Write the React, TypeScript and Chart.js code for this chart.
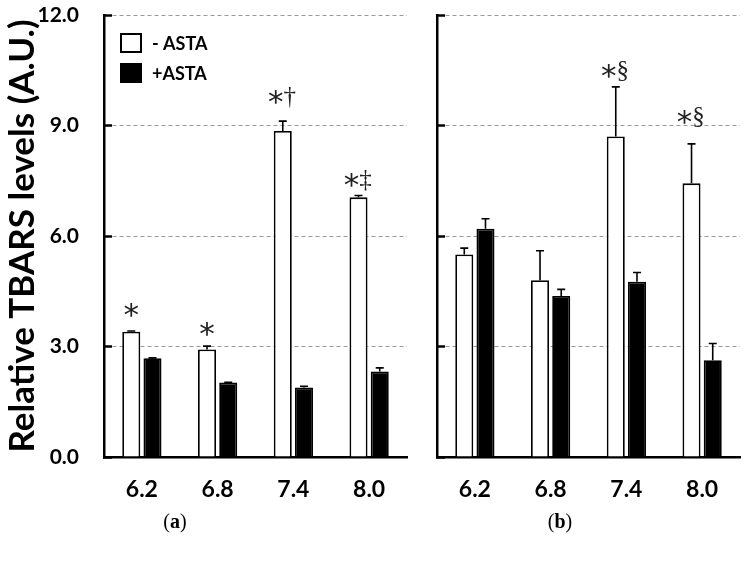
import React, { useEffect, useRef } from "react";
import { Chart, registerables } from "chart.js";

Chart.register(...registerables);

const categories = ["6.2", "6.8", "7.4", "8.0"];
const yTicks = [0, 3, 6, 9, 12];
const seriesLabels = ["- ASTA", "+ASTA"];
const yTitle = "Relative TBARS levels (A.U.)";
const panelLabels = ["a", "b"];

const aNoAsta = [3.4, 2.92, 8.85, 7.05];
const aNoAstaErr = [0.02, 0.09, 0.27, 0.05];
const aAsta = [2.68, 2.02, 1.89, 2.32];
const aAstaErr = [0.01, 0.01, 0.03, 0.1];

const bNoAsta = [5.5, 4.8, 8.7, 7.43];
const bNoAstaErr = [0.17, 0.8, 1.35, 1.07];
const bAsta = [6.2, 4.37, 4.76, 2.63];
const bAstaErr = [0.27, 0.18, 0.25, 0.45];

const aMarks = ["*", "*", "*†", "*‡"];
const aMarkY = [3.99, 3.48, 9.77, 7.52];
const bMarks = ["", "", "*§", "*§"];
const bMarkY = [0, 0, 10.48, 9.23];

const FONT = "Lato";

const errorBarPlugin = {
  id: "errorBars",
  afterDatasetsDraw(chart: any) {
    const ctx = chart.ctx;
    const ys = chart.scales.y;
    chart.data.datasets.forEach((ds: any, di: number) => {
      const errs = ds.errors;
      if (!errs) return;
      const meta = chart.getDatasetMeta(di);
      meta.data.forEach((bar: any, i: number) => {
        const v = ds.data[i];
        const e = errs[i];
        const yTop = ys.getPixelForValue(v + e);
        const yBase = ys.getPixelForValue(v);
        ctx.save();
        ctx.strokeStyle = "#000";
        ctx.lineWidth = 1.6;
        ctx.beginPath();
        ctx.moveTo(bar.x, yBase);
        ctx.lineTo(bar.x, yTop);
        ctx.moveTo(bar.x - 4, yTop);
        ctx.lineTo(bar.x + 4, yTop);
        ctx.stroke();
        ctx.restore();
      });
    });
  },
};

function drawCentered(ctx: any, text: string, cx: number, cy: number, font: string) {
  ctx.font = font;
  const m = ctx.measureText(text);
  const asc = m.actualBoundingBoxAscent;
  const desc = m.actualBoundingBoxDescent;
  ctx.textAlign = "center";
  ctx.textBaseline = "alphabetic";
  ctx.fillText(text, cx, cy + (asc - desc) / 2);
}

function makeMarksPlugin(marks: string[], markY: number[]) {
  return {
    id: "marks",
    afterDatasetsDraw(chart: any) {
      const ctx = chart.ctx;
      const ys = chart.scales.y;
      const meta = chart.getDatasetMeta(0);
      ctx.save();
      ctx.fillStyle = "#222";
      marks.forEach((t, i) => {
        if (!t) return;
        const bar: any = meta.data[i];
        const cy = ys.getPixelForValue(markY[i]);
        if (t.length === 1) {
          drawCentered(ctx, "*", bar.x, cy, "31px 'DejaVu Sans'");
        } else {
          drawCentered(ctx, t[0], bar.x - 7, cy, "31px 'DejaVu Sans'");
          drawCentered(ctx, t.slice(1), bar.x + 7, cy, "25px 'Liberation Serif'");
        }
      });
      ctx.restore();
    },
  };
}

const legendPlugin = {
  id: "boxLegend",
  afterDraw(chart: any) {
    const ctx = chart.ctx;
    const ds = chart.data.datasets;
    ctx.save();
    ds.forEach((d: any, i: number) => {
      const x = 120;
      const y = 33 + i * 30;
      ctx.fillStyle = d.backgroundColor;
      ctx.fillRect(x, y, 22, 20);
      ctx.strokeStyle = "#000";
      ctx.lineWidth = 2;
      ctx.strokeRect(x + 1, y + 1, 20, 18);
      ctx.fillStyle = "#000";
      ctx.font = `bold 18px ${FONT}`;
      ctx.textAlign = "left";
      ctx.textBaseline = "middle";
      ctx.fillText(d.label, x + 32, y + 11);
    });
    ctx.restore();
  },
};

function makeConfig(
  noAsta: number[],
  noErr: number[],
  asta: number[],
  astaErr: number[],
  marks: string[],
  markY: number[],
  left: boolean
): any {
  return {
    type: "bar",
    data: {
      labels: categories,
      datasets: [
        {
          label: seriesLabels[0],
          data: noAsta,
          errors: noErr,
          backgroundColor: "#ffffff",
          borderColor: "#000000",
          borderWidth: 1.8,
          categoryPercentage: 0.56,
          barPercentage: 0.85,
        },
        {
          label: seriesLabels[1],
          data: asta,
          errors: astaErr,
          backgroundColor: "#000000",
          borderColor: "#000000",
          borderWidth: 1.8,
          categoryPercentage: 0.56,
          barPercentage: 0.85,
        },
      ],
    },
    options: {
      responsive: false,
      animation: false,
      layout: { padding: { top: 15, right: left ? 13 : 8, left: 0, bottom: 0 } },
      plugins: {
        legend: { display: false },
        tooltip: { enabled: false },
      },
      scales: {
        x: {
          grid: { display: false, drawTicks: false },
          border: { display: true, color: "#000", width: 2.5 },
          ticks: {
            font: { family: FONT, size: 23, weight: "bold" },
            color: "#000",
            padding: 19,
          },
          afterFit: (s: any) => {
            s.height = 109;
            s.paddingLeft = 0;
            s.paddingRight = 0;
          },
        },
        y: {
          min: 0,
          max: 12,
          afterBuildTicks: (s: any) => {
            s.ticks = yTicks.map((v) => ({ value: v }));
          },
          ticks: {
            display: left,
            callback: (v: any) => Number(v).toFixed(1),
            font: { family: FONT, size: 21, weight: "bold" },
            color: "#000",
            padding: 33,
          },
          grid: {
            color: "#999999",
            lineWidth: 1,
            tickLength: -8,
            tickColor: "#000",
            tickWidth: 2.5,
          },
          border: { display: true, color: "#000", width: 2.5, dash: [4, 3] },
          title: {
            display: left,
            text: yTitle,
            font: { family: FONT, size: 35, weight: "bold" },
            color: "#000",
            padding: { top: 2, bottom: 0 },
          },
          afterFit: (s: any) => {
            s.width = left ? 104 : 17;
            s.paddingTop = 0;
            s.paddingBottom = 0;
          },
        },
      },
    },
    plugins: left
      ? [errorBarPlugin, makeMarksPlugin(marks, markY), legendPlugin]
      : [errorBarPlugin, makeMarksPlugin(marks, markY)],
  };
}

function Panel(props: { cfg: () => any; left: number; width: number }) {
  const ref = useRef<HTMLCanvasElement | null>(null);
  useEffect(() => {
    if (!ref.current) return;
    const chart = new Chart(ref.current, props.cfg());
    return () => chart.destroy();
  }, []);
  return (
    <canvas
      ref={ref}
      width={props.width}
      height={566}
      style={{ position: "absolute", left: props.left, top: 0, width: props.width, height: 566 }}
    />
  );
}

export default function App() {
  return (
    <div style={{ position: "absolute", left: 0, top: 0, width: 748, height: 566, background: "#fff" }}>
      <Panel
        left={0}
        width={420}
        cfg={() => makeConfig(aNoAsta, aNoAstaErr, aAsta, aAstaErr, aMarks, aMarkY, true)}
      />
      <Panel
        left={420}
        width={328}
        cfg={() => makeConfig(bNoAsta, bNoAstaErr, bAsta, bAstaErr, bMarks, bMarkY, false)}
      />
      {panelLabels.map((p, i) => (
        <div
          key={p}
          style={{
            position: "absolute",
            left: (i === 0 ? 175 : 560) - 30,
            top: 509,
            width: 60,
            textAlign: "center",
            fontFamily: "'Liberation Serif', serif",
            fontSize: 20,
            lineHeight: "24px",
            color: "#000",
          }}
        >
          (<b>{p}</b>)
        </div>
      ))}
    </div>
  );
}
